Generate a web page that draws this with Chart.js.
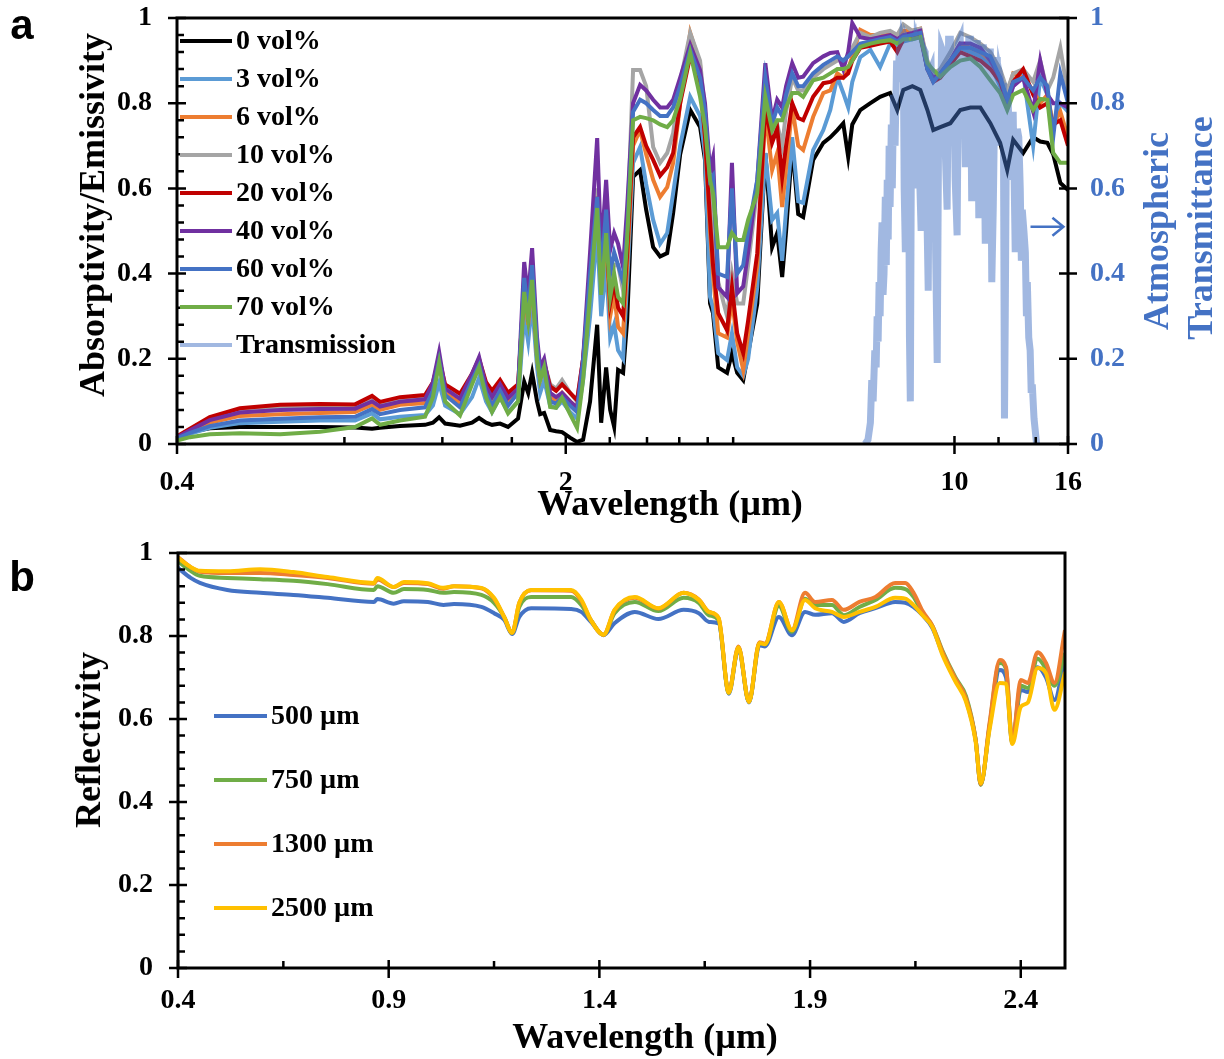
<!DOCTYPE html>
<html>
<head>
<meta charset="utf-8">
<script src="https://cdn.jsdelivr.net/npm/chart.js@4.4.1/dist/chart.umd.min.js"></script>
<style>
  body { margin: 0; background: #fff; }
  #page { position: relative; width: 1224px; height: 1059px; font-family: "Liberation Serif", "Times New Roman", serif; font-weight: bold; }
  canvas { position: absolute; left: 0; }
  .lbl { position: absolute; white-space: nowrap; line-height: 1; font-size: 36px; transform: translate(-50%, -50%); }
  .rot { transform: translate(-50%, -50%) rotate(-90deg); }
  .blue { color: #4472C4; }
  .panel { font-family: "Liberation Sans", Arial, sans-serif; font-size: 42px; }
</style>
</head>
<body>
<div id="page">
  <canvas id="chartA" width="1224" height="530" style="top:0"></canvas>
  <canvas id="chartB" width="1224" height="529" style="top:530px"></canvas>

  <div class="lbl panel" style="left:22px;top:25px">a</div>
  <div class="lbl rot" style="left:92px;top:215px">Absorptivity/Emissivity</div>
  <div class="lbl rot blue" style="left:1156px;top:231px">Atmospheric</div>
  <div class="lbl rot blue" style="left:1200px;top:228px">Transmittance</div>
  <div class="lbl" style="left:670px;top:503px">Wavelength (µm)</div>

  <div class="lbl panel" style="left:22px;top:577px">b</div>
  <div class="lbl rot" style="left:88px;top:740px">Reflectivity</div>
  <div class="lbl" style="left:645px;top:1036px">Wavelength (µm)</div>
</div>

<script>
// ---- panel a: absorptivity/emissivity spectra (µm, log axis) ----
const wavelengthA = [
  0.400, 0.422, 0.458, 0.519, 0.613, 0.723, 0.836, 0.897, 0.927, 1.007,
  1.117, 1.154, 1.184, 1.214, 1.291, 1.357, 1.397, 1.438, 1.474, 1.524,
  1.575, 1.642, 1.684, 1.712, 1.740, 1.776, 1.799, 1.829, 1.875, 1.922,
  1.970, 2.036, 2.096, 2.149, 2.212, 2.278, 2.316, 2.364, 2.404, 2.444,
  2.484, 2.536, 2.579, 2.643, 2.721, 2.790, 2.872, 2.956, 3.044, 3.120,
  3.212, 3.348, 3.488, 3.560, 3.635, 3.680, 3.760, 3.900, 3.980, 4.067,
  4.170, 4.256, 4.420, 4.570, 4.700, 4.800, 4.900, 4.980, 5.108, 5.236,
  5.345, 5.570, 5.810, 5.980, 6.156, 6.310, 6.440, 6.550, 6.770, 7.060,
  7.350, 7.660, 7.890, 8.090, 8.400, 8.680, 8.940, 9.160, 9.430, 9.830,
  10.24, 10.68, 11.13, 11.60, 12.08, 12.44, 12.75, 13.29, 13.85, 14.26,
  14.69, 15.05, 15.50, 16.00
];

const vol0 = [
  0.012, 0.028, 0.037, 0.040, 0.040, 0.040, 0.039, 0.036, 0.038, 0.042,
  0.045, 0.050, 0.063, 0.048, 0.043, 0.050, 0.061, 0.050, 0.045, 0.048,
  0.040, 0.060, 0.146, 0.120, 0.167, 0.100, 0.070, 0.073, 0.033, 0.030,
  0.028, 0.015, 0.005, 0.010, 0.100, 0.280, 0.050, 0.180, 0.080, 0.040,
  0.174, 0.167, 0.290, 0.627, 0.643, 0.550, 0.462, 0.440, 0.448, 0.542,
  0.680, 0.784, 0.744, 0.667, 0.330, 0.307, 0.180, 0.167, 0.213, 0.167,
  0.150, 0.213, 0.330, 0.683, 0.462, 0.495, 0.392, 0.500, 0.700, 0.540,
  0.533, 0.667, 0.707, 0.720, 0.737, 0.753, 0.674, 0.750, 0.784, 0.800,
  0.815, 0.824, 0.784, 0.831, 0.840, 0.831, 0.784, 0.737, 0.744, 0.753,
  0.784, 0.790, 0.790, 0.753, 0.707, 0.643, 0.714, 0.683, 0.720, 0.710,
  0.707, 0.680, 0.613, 0.596
];
const vol3 = [
  0.012, 0.024, 0.038, 0.049, 0.052, 0.055, 0.055, 0.072, 0.058, 0.064,
  0.068, 0.090, 0.143, 0.090, 0.070, 0.110, 0.155, 0.100, 0.075, 0.110,
  0.075, 0.100, 0.300, 0.240, 0.330, 0.180, 0.120, 0.150, 0.090, 0.085,
  0.100, 0.075, 0.060, 0.150, 0.300, 0.500, 0.300, 0.420, 0.250, 0.280,
  0.220, 0.200, 0.380, 0.660, 0.697, 0.610, 0.526, 0.470, 0.495, 0.589,
  0.700, 0.815, 0.770, 0.680, 0.345, 0.320, 0.213, 0.197, 0.260, 0.180,
  0.160, 0.200, 0.368, 0.683, 0.526, 0.542, 0.430, 0.550, 0.720, 0.570,
  0.566, 0.690, 0.737, 0.784, 0.862, 0.824, 0.790, 0.850, 0.908, 0.925,
  0.885, 0.940, 0.930, 0.945, 0.950, 0.955, 0.880, 0.860, 0.870, 0.900,
  0.930, 0.920, 0.910, 0.890, 0.840, 0.790, 0.840, 0.870, 0.700, 0.860,
  0.820, 0.740, 0.800, 0.780
];
const vol6 = [
  0.014, 0.030, 0.050, 0.066, 0.070, 0.073, 0.075, 0.092, 0.080, 0.092,
  0.096, 0.130, 0.195, 0.120, 0.096, 0.150, 0.190, 0.125, 0.100, 0.130,
  0.100, 0.120, 0.360, 0.280, 0.390, 0.200, 0.150, 0.180, 0.110, 0.100,
  0.120, 0.100, 0.085, 0.180, 0.370, 0.570, 0.370, 0.480, 0.300, 0.350,
  0.275, 0.260, 0.420, 0.700, 0.737, 0.680, 0.620, 0.580, 0.603, 0.660,
  0.800, 0.965, 0.890, 0.720, 0.500, 0.400, 0.260, 0.250, 0.340, 0.240,
  0.174, 0.260, 0.420, 0.780, 0.643, 0.683, 0.556, 0.650, 0.790, 0.700,
  0.690, 0.768, 0.824, 0.830, 0.870, 0.860, 0.880, 0.910, 0.972, 0.960,
  0.960, 0.965, 0.955, 0.970, 0.970, 0.975, 0.890, 0.860, 0.870, 0.900,
  0.940, 0.930, 0.920, 0.900, 0.860, 0.820, 0.870, 0.860, 0.830, 0.800,
  0.820, 0.750, 0.780, 0.720
];
const vol10 = [
  0.016, 0.034, 0.060, 0.080, 0.086, 0.088, 0.088, 0.106, 0.094, 0.104,
  0.110, 0.140, 0.200, 0.130, 0.113, 0.160, 0.195, 0.140, 0.120, 0.148,
  0.115, 0.130, 0.380, 0.300, 0.410, 0.220, 0.160, 0.190, 0.140, 0.130,
  0.150, 0.120, 0.100, 0.200, 0.400, 0.600, 0.400, 0.520, 0.380, 0.420,
  0.420, 0.360, 0.500, 0.878, 0.878, 0.840, 0.697, 0.660, 0.683, 0.730,
  0.850, 0.965, 0.900, 0.780, 0.600, 0.500, 0.380, 0.300, 0.400, 0.330,
  0.330, 0.420, 0.600, 0.850, 0.720, 0.750, 0.700, 0.780, 0.860, 0.830,
  0.830, 0.860, 0.880, 0.890, 0.900, 0.900, 0.910, 0.930, 0.965, 0.955,
  0.965, 0.970, 0.960, 0.985, 0.970, 0.975, 0.900, 0.870, 0.880, 0.920,
  0.965, 0.955, 0.940, 0.920, 0.880, 0.830, 0.870, 0.880, 0.850, 0.900,
  0.830, 0.860, 0.930, 0.820
];
const vol20 = [
  0.018, 0.036, 0.063, 0.084, 0.092, 0.094, 0.093, 0.113, 0.099, 0.110,
  0.115, 0.145, 0.200, 0.140, 0.118, 0.165, 0.200, 0.145, 0.125, 0.150,
  0.120, 0.140, 0.370, 0.300, 0.400, 0.220, 0.160, 0.190, 0.135, 0.125,
  0.140, 0.120, 0.103, 0.200, 0.380, 0.580, 0.400, 0.500, 0.330, 0.380,
  0.320, 0.300, 0.450, 0.720, 0.744, 0.700, 0.667, 0.630, 0.650, 0.683,
  0.800, 0.910, 0.850, 0.720, 0.526, 0.420, 0.307, 0.267, 0.368, 0.260,
  0.213, 0.290, 0.448, 0.790, 0.707, 0.740, 0.627, 0.700, 0.800, 0.765,
  0.760, 0.815, 0.847, 0.850, 0.860, 0.860, 0.870, 0.900, 0.930, 0.935,
  0.940, 0.945, 0.920, 0.950, 0.955, 0.960, 0.880, 0.850, 0.860, 0.890,
  0.920, 0.910, 0.900, 0.880, 0.850, 0.800, 0.850, 0.880, 0.820, 0.790,
  0.800, 0.750, 0.760, 0.700
];
const vol40 = [
  0.016, 0.032, 0.056, 0.074, 0.080, 0.082, 0.083, 0.100, 0.088, 0.099,
  0.105, 0.145, 0.216, 0.130, 0.106, 0.165, 0.204, 0.135, 0.110, 0.140,
  0.108, 0.130, 0.427, 0.345, 0.460, 0.250, 0.180, 0.200, 0.120, 0.110,
  0.120, 0.100, 0.085, 0.200, 0.450, 0.718, 0.450, 0.620, 0.455, 0.495,
  0.470, 0.415, 0.556, 0.800, 0.843, 0.830, 0.808, 0.790, 0.790, 0.808,
  0.860, 0.937, 0.878, 0.800, 0.643, 0.673, 0.368, 0.345, 0.660, 0.354,
  0.370, 0.450, 0.620, 0.894, 0.760, 0.808, 0.790, 0.840, 0.894, 0.860,
  0.862, 0.894, 0.910, 0.918, 0.920, 0.880, 0.920, 0.988, 0.955, 0.950,
  0.955, 0.960, 0.950, 0.960, 0.965, 0.970, 0.880, 0.860, 0.870, 0.900,
  0.940, 0.940, 0.930, 0.900, 0.860, 0.800, 0.840, 0.860, 0.780, 0.900,
  0.820, 0.800, 0.800, 0.790
];
const vol60 = [
  0.013, 0.026, 0.042, 0.055, 0.059, 0.063, 0.064, 0.082, 0.070, 0.080,
  0.086, 0.125, 0.195, 0.115, 0.086, 0.150, 0.185, 0.120, 0.090, 0.125,
  0.090, 0.120, 0.390, 0.310, 0.420, 0.230, 0.160, 0.180, 0.100, 0.095,
  0.110, 0.090, 0.075, 0.190, 0.400, 0.580, 0.400, 0.550, 0.400, 0.450,
  0.420, 0.380, 0.500, 0.780, 0.808, 0.800, 0.784, 0.770, 0.770, 0.790,
  0.840, 0.925, 0.860, 0.780, 0.620, 0.630, 0.400, 0.392, 0.600, 0.400,
  0.420, 0.500, 0.620, 0.860, 0.750, 0.790, 0.770, 0.820, 0.870, 0.840,
  0.840, 0.870, 0.890, 0.900, 0.910, 0.900, 0.910, 0.920, 0.940, 0.945,
  0.950, 0.955, 0.945, 0.955, 0.960, 0.965, 0.880, 0.850, 0.870, 0.900,
  0.930, 0.930, 0.920, 0.910, 0.860, 0.810, 0.850, 0.860, 0.830, 0.860,
  0.840, 0.720, 0.870, 0.800
];
const vol70 = [
  0.008, 0.016, 0.023, 0.025, 0.023, 0.029, 0.040, 0.060, 0.045, 0.055,
  0.064, 0.110, 0.190, 0.100, 0.067, 0.140, 0.180, 0.110, 0.075, 0.110,
  0.072, 0.100, 0.357, 0.290, 0.385, 0.200, 0.150, 0.180, 0.087, 0.085,
  0.108, 0.070, 0.038, 0.150, 0.350, 0.554, 0.350, 0.495, 0.345, 0.400,
  0.345, 0.330, 0.480, 0.760, 0.768, 0.765, 0.760, 0.750, 0.744, 0.760,
  0.810, 0.918, 0.815, 0.744, 0.620, 0.589, 0.462, 0.462, 0.495, 0.479,
  0.479, 0.526, 0.589, 0.815, 0.737, 0.760, 0.760, 0.790, 0.824, 0.824,
  0.815, 0.854, 0.860, 0.870, 0.880, 0.880, 0.885, 0.900, 0.932, 0.940,
  0.945, 0.948, 0.940, 0.950, 0.950, 0.955, 0.894, 0.878, 0.862, 0.885,
  0.900, 0.905, 0.885, 0.854, 0.824, 0.784, 0.820, 0.831, 0.784, 0.810,
  0.808, 0.683, 0.660, 0.660
];

// atmospheric transmittance (right axis)
const wavelengthT = [
  6.91, 6.99, 7.06, 7.10, 7.14, 7.19, 7.23, 7.26, 7.29, 7.32,
  7.35, 7.38, 7.41, 7.44, 7.47, 7.51, 7.54, 7.57, 7.60, 7.63,
  7.66, 7.70, 7.73, 7.77, 7.82, 7.87, 7.92, 7.96, 7.99, 8.04,
  8.09, 8.12, 8.16, 8.21, 8.26, 8.30, 8.33, 8.38, 8.43, 8.48,
  8.53, 8.57, 8.61, 8.66, 8.71, 8.78, 8.86, 8.92, 8.97, 9.02,
  9.08, 9.13, 9.19, 9.25, 9.31, 9.37, 9.43, 9.48, 9.54, 9.62,
  9.70, 9.76, 9.83, 9.89, 9.95, 10.03, 10.11, 10.17, 10.24, 10.30,
  10.37, 10.46, 10.55, 10.61, 10.68, 10.74, 10.81, 10.90, 10.99, 11.06,
  11.13, 11.20, 11.27, 11.36, 11.45, 11.52, 11.60, 11.67, 11.74, 11.84,
  11.94, 12.01, 12.08, 12.16, 12.24, 12.30, 12.34, 12.41, 12.49, 12.62,
  12.75, 12.86, 12.97, 13.05, 13.13, 13.19, 13.24, 13.33, 13.41, 13.47,
  13.52, 13.60, 13.68, 13.74, 13.80, 13.90, 14.05
];
const transmission = [
  0, 0.01, 0.05, 0.15, 0.10, 0.22, 0.18, 0.30, 0.24, 0.38,
  0.30, 0.45, 0.52, 0.35, 0.40, 0.58, 0.42, 0.62, 0.48, 0.70,
  0.556, 0.75, 0.60, 0.82, 0.70, 0.90, 0.85, 0.93, 0.90, 0.94,
  0.92, 0.60, 0.45, 0.94, 0.93, 0.25, 0.10, 0.93, 0.94, 0.70,
  0.60, 0.94, 0.93, 0.62, 0.50, 0.93, 0.92, 0.55, 0.36, 0.87,
  0.88, 0.70, 0.86, 0.45, 0.19, 0.80, 0.70, 0.93, 0.92, 0.70,
  0.55, 0.95, 0.95, 0.75, 0.93, 0.62, 0.49, 0.94, 0.95, 0.78,
  0.94, 0.65, 0.80, 0.95, 0.95, 0.57, 0.80, 0.94, 0.94, 0.53,
  0.75, 0.93, 0.93, 0.47, 0.70, 0.92, 0.92, 0.38, 0.55, 0.90,
  0.90, 0.70, 0.86, 0.84, 0.84, 0.06, 0.30, 0.82, 0.80, 0.62,
  0.78, 0.45, 0.74, 0.72, 0.60, 0.43, 0.55, 0.50, 0.45, 0.30,
  0.38, 0.25, 0.22, 0.12, 0.14, 0.06, 0
];

const xLabelsA = [0.4, 2, 10, 16];
const xMinorA = [0.8, 1.2, 1.6, 2.4, 2.8, 3.2, 3.6, 4.0, 12, 14];

// ---- panel b: reflectivity by thickness ----
const wavelengthB = [
  0.400, 0.430, 0.452, 0.517, 0.595, 0.674, 0.755, 0.865, 0.873, 0.912,
  0.936, 0.993, 1.030, 1.055, 1.120, 1.150, 1.174, 1.193, 1.210, 1.238,
  1.333, 1.357, 1.380, 1.410, 1.436, 1.484, 1.540, 1.600, 1.636, 1.660,
  1.683, 1.707, 1.730, 1.755, 1.780, 1.793, 1.826, 1.857, 1.888, 1.912,
  1.952, 1.980, 2.017, 2.055, 2.102, 2.126, 2.145, 2.167, 2.190, 2.214,
  2.245, 2.270, 2.293, 2.305, 2.326, 2.350, 2.365, 2.380, 2.400, 2.417,
  2.440, 2.460, 2.480, 2.505
];
const um500 = [
  0.964, 0.940, 0.928, 0.911, 0.904, 0.899, 0.892, 0.882, 0.889, 0.878,
  0.884, 0.882, 0.875, 0.877, 0.870, 0.855, 0.839, 0.805, 0.846, 0.867,
  0.865, 0.858, 0.834, 0.802, 0.831, 0.858, 0.841, 0.863, 0.855, 0.834,
  0.830, 0.661, 0.770, 0.640, 0.778, 0.775, 0.846, 0.802, 0.858, 0.851,
  0.855, 0.834, 0.855, 0.867, 0.882, 0.880, 0.870, 0.850, 0.820, 0.759,
  0.694, 0.646, 0.549, 0.443, 0.581, 0.718, 0.700, 0.542, 0.670, 0.665,
  0.725, 0.700, 0.646, 0.750
];
const um750 = [
  0.980, 0.957, 0.945, 0.940, 0.937, 0.933, 0.925, 0.911, 0.920, 0.904,
  0.913, 0.911, 0.904, 0.906, 0.899, 0.880, 0.846, 0.807, 0.870, 0.894,
  0.894, 0.875, 0.838, 0.803, 0.855, 0.882, 0.860, 0.892, 0.880, 0.850,
  0.838, 0.663, 0.773, 0.641, 0.783, 0.780, 0.872, 0.810, 0.890, 0.875,
  0.875, 0.850, 0.870, 0.887, 0.916, 0.913, 0.895, 0.855, 0.825, 0.765,
  0.700, 0.655, 0.550, 0.441, 0.585, 0.735, 0.720, 0.545, 0.680, 0.675,
  0.745, 0.720, 0.680, 0.759
];
const um1300 = [
  0.990, 0.966, 0.955, 0.952, 0.952, 0.947, 0.940, 0.926, 0.936, 0.918,
  0.928, 0.925, 0.914, 0.920, 0.915, 0.890, 0.846, 0.808, 0.880, 0.910,
  0.909, 0.885, 0.838, 0.803, 0.862, 0.892, 0.866, 0.904, 0.888, 0.858,
  0.843, 0.665, 0.775, 0.642, 0.785, 0.782, 0.882, 0.814, 0.904, 0.882,
  0.887, 0.863, 0.882, 0.894, 0.928, 0.928, 0.905, 0.860, 0.825, 0.762,
  0.697, 0.650, 0.550, 0.443, 0.590, 0.742, 0.725, 0.545, 0.694, 0.687,
  0.761, 0.735, 0.687, 0.814
];
const um2500 = [
  0.988, 0.966, 0.957, 0.956, 0.961, 0.954, 0.942, 0.928, 0.940, 0.918,
  0.930, 0.927, 0.916, 0.920, 0.916, 0.892, 0.846, 0.808, 0.880, 0.911,
  0.911, 0.888, 0.838, 0.803, 0.863, 0.894, 0.867, 0.904, 0.887, 0.858,
  0.843, 0.663, 0.773, 0.641, 0.783, 0.780, 0.882, 0.814, 0.887, 0.867,
  0.858, 0.846, 0.858, 0.870, 0.892, 0.890, 0.875, 0.850, 0.822, 0.755,
  0.690, 0.642, 0.545, 0.445, 0.575, 0.687, 0.685, 0.540, 0.629, 0.640,
  0.723, 0.710, 0.622, 0.713
];

const xLabelsB = [0.4, 0.9, 1.4, 1.9, 2.4];
const xMinorB = [0.65, 1.15, 1.65, 2.15];

const yMajor = [0, 0.2, 0.4, 0.6, 0.8, 1];
const yMinor = [];
for (let v = 0.04; v < 1; v += 0.04) yMinor.push(+v.toFixed(2));

const serif = '"Liberation Serif", "Times New Roman", serif';
const tickFont = { family: serif, size: 28, weight: 'bold' };
const transColor = 'rgba(68, 114, 196, 0.5)';

function pairs(xs, ys) {
    return xs.map((x, i) => ({ x: x, y: ys[i] }));
}

function series(label, xs, ys, color, order, extra) {
    return Object.assign({
        label: label,
        data: pairs(xs, ys),
        borderColor: color,
        borderWidth: 4,
        pointRadius: 0,
        fill: false,
        order: order
    }, extra || {});
}

// frame, tick marks and the small arrow drawn from the chart's own scales
const axisMarks = {
    id: 'axisMarks',
    afterDatasetsDraw(chart, args, opts) {
        const { ctx, chartArea: area, scales } = chart;
        ctx.save();
        ctx.strokeStyle = '#000';
        ctx.lineWidth = 3;
        ctx.strokeRect(area.left, area.top, area.right - area.left, area.bottom - area.top);

        ctx.lineWidth = 2.5;
        ctx.beginPath();
        opts.xMajor.forEach(v => {
            const x = scales.x.getPixelForValue(v);
            ctx.moveTo(x, area.bottom - 8);
            ctx.lineTo(x, area.bottom + 10);
        });
        opts.xMinor.forEach(v => {
            const x = scales.x.getPixelForValue(v);
            ctx.moveTo(x, area.bottom - 7);
            ctx.lineTo(x, area.bottom);
        });
        yMajor.forEach(v => {
            const y = scales.y.getPixelForValue(v);
            ctx.moveTo(area.left - 9, y);
            ctx.lineTo(area.left + 9, y);
        });
        yMinor.forEach(v => {
            const y = scales.y.getPixelForValue(v);
            ctx.moveTo(area.left, y);
            ctx.lineTo(area.left + 7, y);
        });
        if (scales.y2) {
            yMajor.forEach(v => {
                const y = scales.y2.getPixelForValue(v);
                ctx.moveTo(area.right - 9, y);
                ctx.lineTo(area.right + 9, y);
            });
        }
        ctx.stroke();

        if (opts.arrow) {
            const a = opts.arrow;
            const x0 = scales.x.getPixelForValue(a.from);
            const x1 = scales.x.getPixelForValue(a.to);
            const y = scales.y2.getPixelForValue(a.level);
            ctx.strokeStyle = '#4472C4';
            ctx.lineWidth = 2.5;
            ctx.beginPath();
            ctx.moveTo(x0, y);
            ctx.lineTo(x1, y);
            ctx.moveTo(x1 - 11, y - 9);
            ctx.lineTo(x1, y);
            ctx.lineTo(x1 - 11, y + 9);
            ctx.stroke();
        }
        ctx.restore();
    }
};

// legend sitting inside the plot area
const inlineLegend = {
    id: 'inlineLegend',
    afterDraw(chart, args, opts) {
        const ctx = chart.ctx;
        ctx.save();
        ctx.font = 'bold 28px ' + serif;
        ctx.textBaseline = 'middle';
        chart.data.datasets.forEach((ds, i) => {
            const y = opts.top + i * opts.step;
            ctx.strokeStyle = ds.borderColor;
            ctx.lineWidth = 4;
            ctx.beginPath();
            ctx.moveTo(opts.x0, y);
            ctx.lineTo(opts.x1, y);
            ctx.stroke();
            ctx.fillStyle = '#000';
            ctx.fillText(ds.label, opts.x1 + 4, y + 1);
        });
        ctx.restore();
    }
};

function yAxis(position, width, color, padding) {
    return {
        type: 'linear',
        position: position,
        min: 0,
        max: 1,
        afterFit: s => {
            s.width = width;
            s.paddingTop = 0;
            s.paddingBottom = 0;
        },
        grid: { display: false, drawTicks: false },
        border: { display: false },
        ticks: {
            stepSize: 0.2,
            padding: padding,
            font: tickFont,
            color: color,
            callback: v => String(Math.round(v * 10) / 10)
        }
    };
}

new Chart(document.getElementById('chartA'), {
    type: 'line',
    data: {
        datasets: [
            series('0 vol%', wavelengthA, vol0, '#000000', 8),
            series('3 vol%', wavelengthA, vol3, '#5B9BD5', 7),
            series('6 vol%', wavelengthA, vol6, '#ED7D31', 6),
            series('10 vol%', wavelengthA, vol10, '#A5A5A5', 5),
            series('20 vol%', wavelengthA, vol20, '#C00000', 4),
            series('40 vol%', wavelengthA, vol40, '#7030A0', 3),
            series('60 vol%', wavelengthA, vol60, '#4472C4', 2),
            series('70 vol%', wavelengthA, vol70, '#70AD47', 1),
            series('Transmission', wavelengthT, transmission, transColor, 0,
                   { borderWidth: 7, yAxisID: 'y2' })
        ]
    },
    options: {
        responsive: false,
        animation: false,
        layout: { padding: { top: 18, left: 0, right: 0, bottom: 0 } },
        plugins: {
            legend: { display: false },
            tooltip: { enabled: false },
            axisMarks: {
                xMajor: xLabelsA,
                xMinor: xMinorA,
                arrow: { from: 13.7, to: 15.7, level: 0.51 }
            },
            inlineLegend: { x0: 180, x1: 232, top: 41, step: 38 }
        },
        scales: {
            x: {
                type: 'logarithmic',
                min: 0.4,
                max: 16,
                afterBuildTicks: s => { s.ticks = xLabelsA.map(v => ({ value: v })); },
                afterFit: s => { s.height = 86; },
                grid: { display: false, drawTicks: false },
                border: { display: false },
                ticks: {
                    autoSkip: false,
                    maxRotation: 0,
                    padding: 22,
                    font: tickFont,
                    color: '#000',
                    callback: v => String(v)
                }
            },
            y: yAxis('left', 177, '#000', 25),
            y2: yAxis('right', 156, '#4472C4', 22)
        }
    },
    plugins: [axisMarks, inlineLegend]
});

new Chart(document.getElementById('chartB'), {
    type: 'line',
    data: {
        datasets: [
            series('500 µm', wavelengthB, um500, '#4472C4', 3, { cubicInterpolationMode: 'monotone' }),
            series('750 µm', wavelengthB, um750, '#70AD47', 2, { cubicInterpolationMode: 'monotone' }),
            series('1300 µm', wavelengthB, um1300, '#ED7D31', 1, { cubicInterpolationMode: 'monotone' }),
            series('2500 µm', wavelengthB, um2500, '#FFC000', 0, { cubicInterpolationMode: 'monotone' })
        ]
    },
    options: {
        responsive: false,
        animation: false,
        layout: { padding: { top: 23, left: 0, right: 159, bottom: 0 } },
        plugins: {
            legend: { display: false },
            tooltip: { enabled: false },
            axisMarks: { xMajor: xLabelsB, xMinor: xMinorB },
            inlineLegend: { x0: 214, x1: 267, top: 186, step: 64 }
        },
        scales: {
            x: {
                type: 'linear',
                min: 0.4,
                max: 2.505,
                afterBuildTicks: s => { s.ticks = xLabelsB.map(v => ({ value: v })); },
                afterFit: s => { s.height = 91; },
                grid: { display: false, drawTicks: false },
                border: { display: false },
                ticks: {
                    autoSkip: false,
                    maxRotation: 0,
                    padding: 16,
                    font: tickFont,
                    color: '#000',
                    callback: v => v.toFixed(1)
                }
            },
            y: yAxis('left', 178, '#000', 25)
        }
    },
    plugins: [axisMarks, inlineLegend]
});
</script>
</body>
</html>
